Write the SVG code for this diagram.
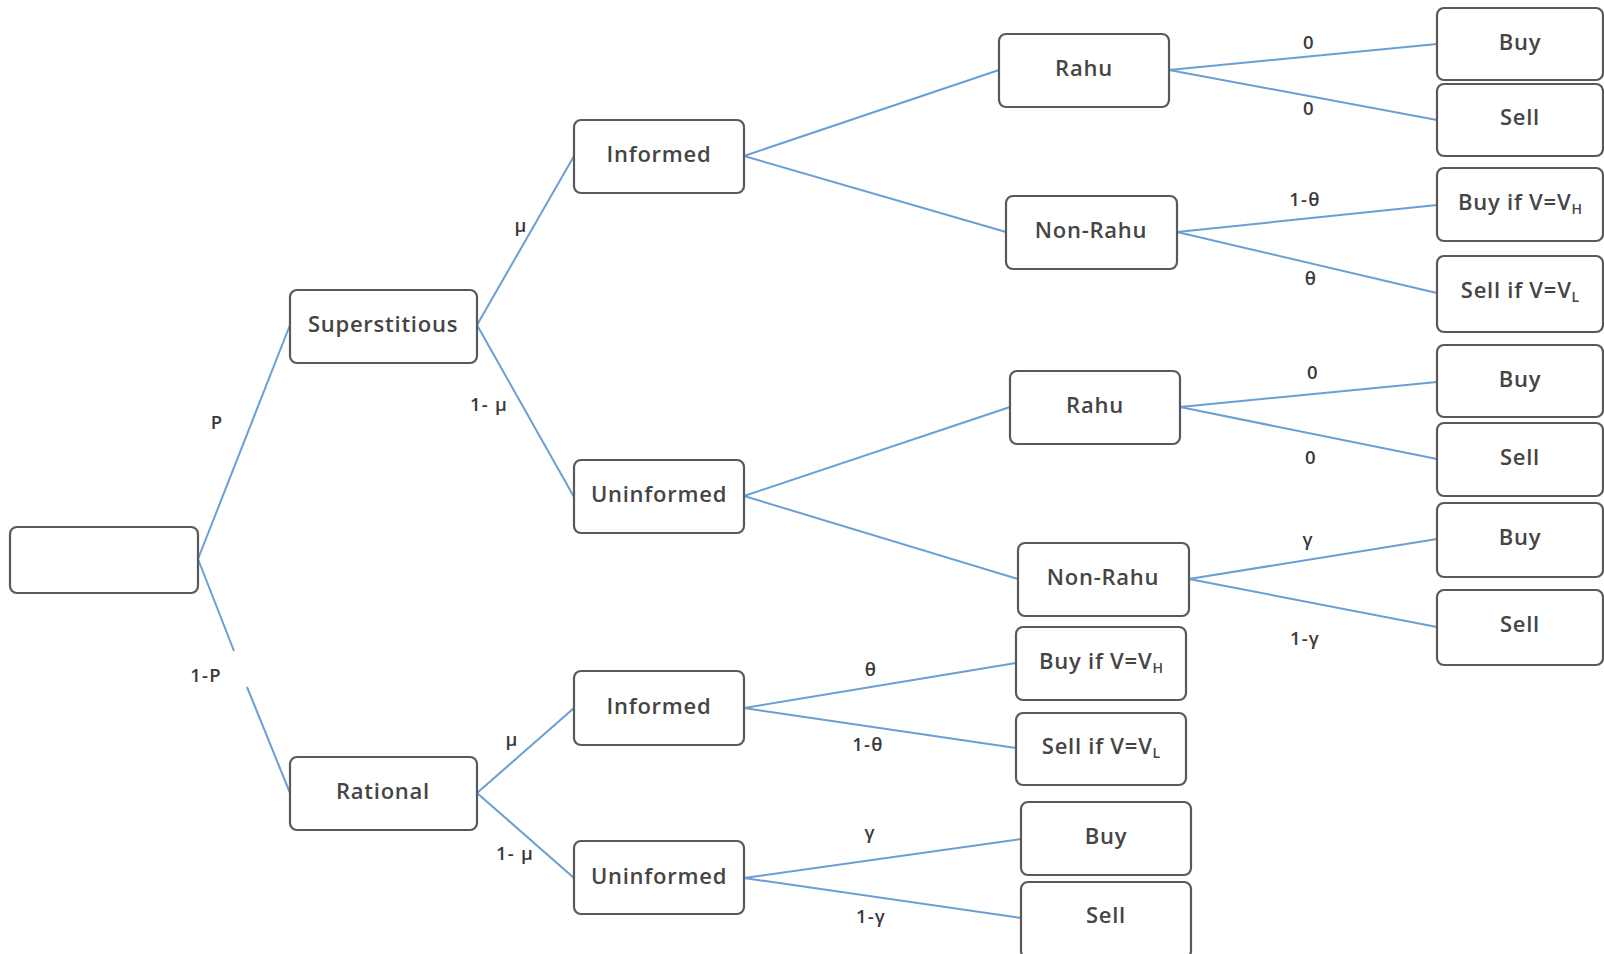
<svg xmlns="http://www.w3.org/2000/svg" width="1604" height="954" viewBox="0 0 1604 954">
<style>
.box{fill:#fff;stroke:#595959;stroke-width:2.2}
.t{font-family:"Open Sans",Lato,"Liberation Sans",sans-serif;font-size:22px;font-weight:600;letter-spacing:0.75px;fill:#454545;text-anchor:middle}
.l{font-family:"Open Sans",Lato,"Liberation Sans",sans-serif;font-size:18.5px;font-weight:600;letter-spacing:1.2px;fill:#3a3a3a;text-anchor:middle}
.c line{stroke:#6a9fd4;stroke-width:2}
.s{font-size:14px;letter-spacing:0}
</style>
<rect width="1604" height="954" fill="#fff"/>
<g class="c" id="connectors">
<line x1="198" y1="559" x2="290" y2="325"/>
<line x1="198" y1="559" x2="234" y2="651"/>
<line x1="247" y1="687" x2="290" y2="793"/>
<line x1="477" y1="325" x2="574" y2="156"/>
<line x1="477" y1="325" x2="574" y2="497"/>
<line x1="477" y1="793" x2="574" y2="708"/>
<line x1="477" y1="793" x2="574" y2="878"/>
<line x1="744" y1="156" x2="999" y2="70"/>
<line x1="744" y1="156" x2="1006" y2="232"/>
<line x1="744" y1="496" x2="1010" y2="407"/>
<line x1="744" y1="496" x2="1018" y2="579"/>
<line x1="744" y1="708" x2="1016" y2="663"/>
<line x1="744" y1="708" x2="1016" y2="748"/>
<line x1="744" y1="878" x2="1021" y2="839"/>
<line x1="744" y1="878" x2="1021" y2="918"/>
<line x1="1169" y1="70" x2="1437" y2="44"/>
<line x1="1169" y1="70" x2="1437" y2="120"/>
<line x1="1177" y1="232" x2="1437" y2="205"/>
<line x1="1177" y1="232" x2="1437" y2="293"/>
<line x1="1180" y1="407" x2="1437" y2="382"/>
<line x1="1180" y1="407" x2="1437" y2="459"/>
<line x1="1189" y1="579" x2="1437" y2="539"/>
<line x1="1189" y1="579" x2="1437" y2="627"/>
</g>
<g id="labels">
<text class="l" x="217" y="429">P</text>
<text class="l" x="206" y="682">1-P</text>
<text class="l" x="521" y="232">μ</text>
<text class="l" x="489" y="411">1- μ</text>
<text class="l" x="512" y="746">μ</text>
<text class="l" x="515" y="860">1- μ</text>
<text class="l" x="871" y="676">θ</text>
<text class="l" x="868" y="751">1-θ</text>
<text class="l" x="870" y="839">γ</text>
<text class="l" x="871" y="923">1-γ</text>
<text class="l" x="1309" y="49">0</text>
<text class="l" x="1309" y="115">0</text>
<text class="l" x="1305" y="206">1-θ</text>
<text class="l" x="1311" y="285">θ</text>
<text class="l" x="1313" y="379">0</text>
<text class="l" x="1311" y="464">0</text>
<text class="l" x="1308" y="546">γ</text>
<text class="l" x="1305" y="645">1-γ</text>
</g>
<g id="root"><rect class="box" x="10" y="527" width="188" height="66" rx="7"/></g>
<g id="superstitious"><rect class="box" x="290" y="290" width="187" height="73" rx="7"/><text class="t" x="383" y="332">Superstitious</text></g>
<g id="rational"><rect class="box" x="290" y="757" width="187" height="73" rx="7"/><text class="t" x="383" y="799">Rational</text></g>
<g id="informed1"><rect class="box" x="574" y="120" width="170" height="73" rx="7"/><text class="t" x="659" y="162">Informed</text></g>
<g id="uninformed1"><rect class="box" x="574" y="460" width="170" height="73" rx="7"/><text class="t" x="659" y="502">Uninformed</text></g>
<g id="informed2"><rect class="box" x="574" y="671" width="170" height="74" rx="7"/><text class="t" x="659" y="714">Informed</text></g>
<g id="uninformed2"><rect class="box" x="574" y="841" width="170" height="73" rx="7"/><text class="t" x="659" y="884">Uninformed</text></g>
<g id="rahu1"><rect class="box" x="999" y="34" width="170" height="73" rx="7"/><text class="t" x="1084" y="76">Rahu</text></g>
<g id="nonrahu1"><rect class="box" x="1006" y="196" width="171" height="73" rx="7"/><text class="t" x="1091" y="238">Non-Rahu</text></g>
<g id="rahu2"><rect class="box" x="1010" y="371" width="170" height="73" rx="7"/><text class="t" x="1095" y="413">Rahu</text></g>
<g id="nonrahu2"><rect class="box" x="1018" y="543" width="171" height="73" rx="7"/><text class="t" x="1103" y="585">Non-Rahu</text></g>
<g id="buyvh2"><rect class="box" x="1016" y="627" width="170" height="73" rx="7"/><text class="t" x="1101" y="669">Buy if V=V<tspan class="s" dy="4">H</tspan></text></g>
<g id="sellvl2"><rect class="box" x="1016" y="713" width="170" height="72" rx="7"/><text class="t" x="1101" y="754">Sell if V=V<tspan class="s" dy="4">L</tspan></text></g>
<g id="buy5"><rect class="box" x="1021" y="802" width="170" height="73" rx="7"/><text class="t" x="1106" y="844">Buy</text></g>
<g id="sell5"><rect class="box" x="1021" y="882" width="170" height="76" rx="7"/><text class="t" x="1106" y="923">Sell</text></g>
<g id="buy1"><rect class="box" x="1437" y="8" width="166" height="72" rx="7"/><text class="t" x="1520" y="50">Buy</text></g>
<g id="sell1"><rect class="box" x="1437" y="84" width="166" height="72" rx="7"/><text class="t" x="1520" y="125">Sell</text></g>
<g id="buyvh1"><rect class="box" x="1437" y="168" width="166" height="73" rx="7"/><text class="t" x="1520" y="210">Buy if V=V<tspan class="s" dy="4">H</tspan></text></g>
<g id="sellvl1"><rect class="box" x="1437" y="256" width="166" height="76" rx="7"/><text class="t" x="1520" y="298">Sell if V=V<tspan class="s" dy="4">L</tspan></text></g>
<g id="buy3"><rect class="box" x="1437" y="345" width="166" height="72" rx="7"/><text class="t" x="1520" y="387">Buy</text></g>
<g id="sell3"><rect class="box" x="1437" y="423" width="166" height="73" rx="7"/><text class="t" x="1520" y="465">Sell</text></g>
<g id="buy4"><rect class="box" x="1437" y="503" width="166" height="74" rx="7"/><text class="t" x="1520" y="545">Buy</text></g>
<g id="sell4"><rect class="box" x="1437" y="590" width="166" height="75" rx="7"/><text class="t" x="1520" y="632">Sell</text></g>
</svg>
